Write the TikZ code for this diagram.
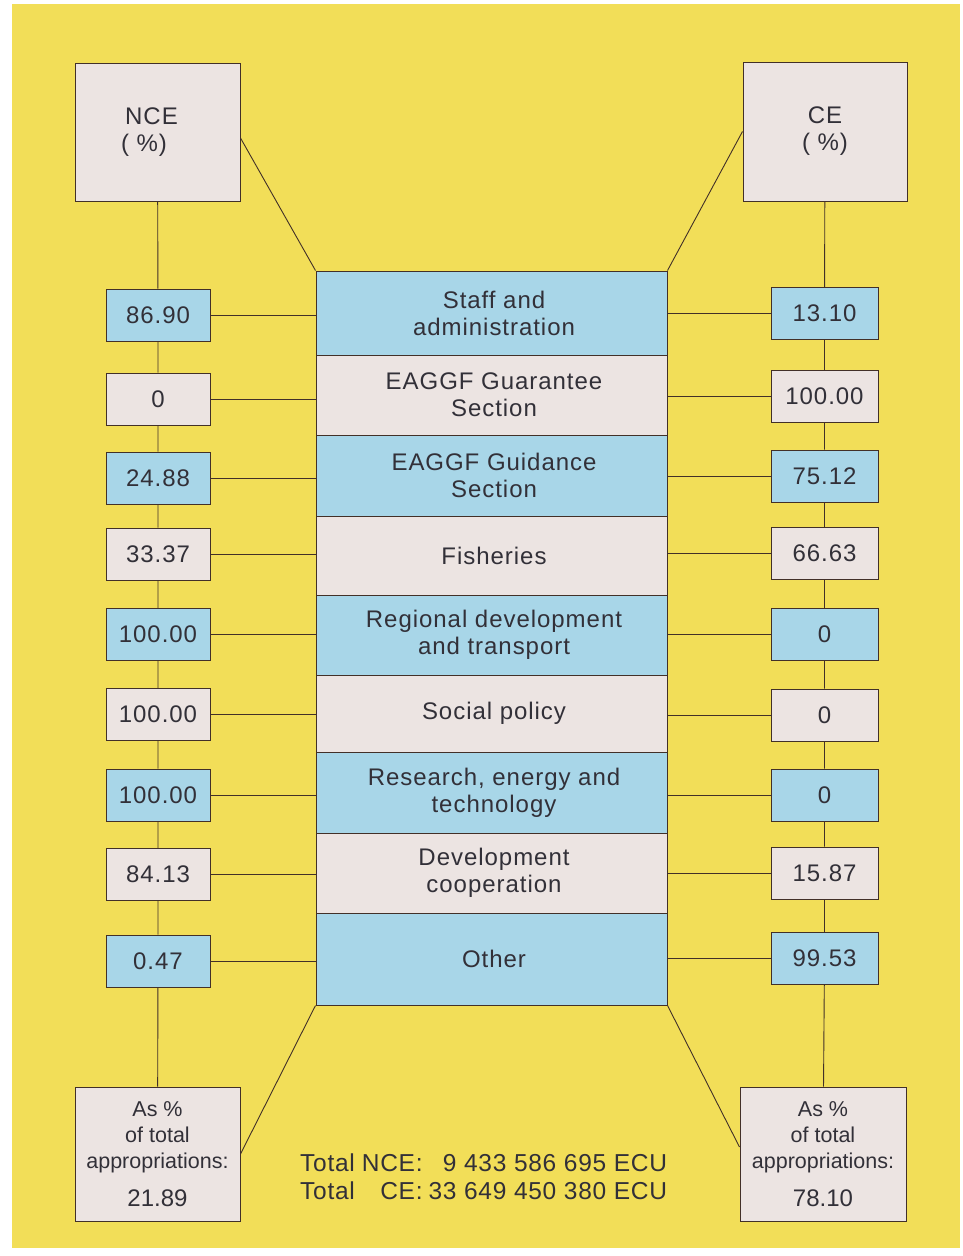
\documentclass[tikz,border=0pt]{standalone}
\usepackage{fontspec}
\setmainfont{Liberation Sans}
\newfontfamily\spfont[LetterSpace=4]{Liberation Sans}
\newfontfamily\totfont[LetterSpace=3]{Liberation Sans}
\usetikzlibrary{calc}
\definecolor{bgyellow}{RGB}{242,222,88}
\definecolor{boxblue}{RGB}{168,214,232}
\definecolor{boxpink}{RGB}{236,228,226}
\definecolor{ink}{RGB}{50,48,56}
\definecolor{linec}{RGB}{66,48,40}
\begin{document}
\begin{tikzpicture}[x=1pt,y=-1pt,
  every node/.style={text=ink},
  box/.style={draw=linec, line width=1pt, rectangle, inner sep=0pt, align=center},
  pinkbox/.style={box, fill=boxpink},
  bluebox/.style={box, fill=boxblue},
  txt/.style={font=\spfont\fontsize{24}{27}\selectfont},
  rowbox/.style={minimum width=351pt, txt},
  lval/.style={minimum width=104pt, minimum height=52pt, txt},
  rval/.style={minimum width=107pt, minimum height=52pt, txt},
  botbox/.style={minimum height=134pt, font=\fontsize{21.5}{26}\selectfont},
  conn/.style={draw=linec, line width=0.9pt},
]
\useasboundingbox (0,0) rectangle (962,1256);
\fill[white] (0,0) rectangle (962,1256);
\fill[bgyellow] (12,4) rectangle (960,1248);

% header boxes
\node[pinkbox, txt, minimum width=165pt, minimum height=138pt] (nce) at (157.5,132) {\hspace*{-12pt}NCE\\\hspace*{-27pt}( \%)};
\node[pinkbox, txt, minimum width=164pt, minimum height=139pt] (ce) at (825,131.5) {CE\\( \%)};

% central column
\node[bluebox, rowbox, minimum height=84pt] (row1) at (491.5,313) {\hspace*{5pt}Staff and\\\hspace*{5pt}administration};
\node[pinkbox, rowbox, minimum height=80pt] (row2) at (491.5,395) {\hspace*{5pt}EAGGF Guarantee\\\hspace*{5pt}Section};
\node[bluebox, rowbox, minimum height=81pt] (row3) at (491.5,475.5) {\hspace*{5pt}EAGGF Guidance\\\hspace*{5pt}Section};
\node[pinkbox, rowbox, minimum height=79pt] (row4) at (491.5,555.5) {\hspace*{5pt}Fisheries};
\node[bluebox, rowbox, minimum height=80pt] (row5) at (491.5,635) {\hspace*{5pt}Regional development\\\hspace*{5pt}and transport};
\node[pinkbox, rowbox, minimum height=77pt] (row6) at (491.5,713.5) {\hspace*{5pt}Social policy};
\node[bluebox, rowbox, minimum height=81pt] (row7) at (491.5,792.5) {\hspace*{5pt}Research, energy and\\\hspace*{5pt}technology};
\node[pinkbox, rowbox, minimum height=80pt] (row8) at (491.5,873) {\hspace*{5pt}Development\\\hspace*{5pt}cooperation};
\node[bluebox, rowbox, minimum height=92pt] (row9) at (491.5,959) {\hspace*{5pt}Other};

% left values
\node[bluebox, lval] (l1) at (158,315) {86.90};
\node[pinkbox, lval] (l2) at (158,399) {0};
\node[bluebox, lval] (l3) at (158,478) {24.88};
\node[pinkbox, lval] (l4) at (158,554) {33.37};
\node[bluebox, lval] (l5) at (158,634.5) {100.00};
\node[pinkbox, lval] (l6) at (158,714.5) {100.00};
\node[bluebox, lval] (l7) at (158,795) {100.00};
\node[pinkbox, lval] (l8) at (158,874.5) {84.13};
\node[bluebox, lval] (l9) at (158,961) {0.47};

% right values
\node[bluebox, rval] (r1) at (824.5,313.5) {13.10};
\node[pinkbox, rval] (r2) at (824.5,396.5) {100.00};
\node[bluebox, rval] (r3) at (824.5,476) {75.12};
\node[pinkbox, rval] (r4) at (824.5,553.5) {66.63};
\node[bluebox, rval] (r5) at (824.5,634.5) {0};
\node[pinkbox, rval] (r6) at (824.5,715) {0};
\node[bluebox, rval] (r7) at (824.5,795) {0};
\node[pinkbox, rval] (r8) at (824.5,873) {15.87};
\node[bluebox, rval] (r9) at (824.5,958.5) {99.53};

% bottom boxes
\node[pinkbox, botbox, minimum width=165pt] (bl) at (157.5,1154)
  {As \%\\of total\\appropriations:\\[12pt]{\fontsize{24}{26}\selectfont 21.89}};
\node[pinkbox, botbox, minimum width=166pt] (br) at (823,1154)
  {As \%\\of total\\appropriations:\\[12pt]{\fontsize{24}{26}\selectfont 78.10}};

% totals
\node[anchor=west, inner sep=0pt, font=\totfont\fontsize{24.5}{28}\selectfont] (tot) at (300,1180)
  {\begin{tabular}{@{}l@{\hspace{7pt}}r@{\hspace{6pt}}r@{}}
   Total & NCE: & 9 433 586 695 ECU\\
   Total & CE: & 33 649 450 380 ECU
   \end{tabular}};

% vertical chains
\draw[conn] (nce) -- (l1) -- (l2) -- (l3) -- (l4) -- (l5) -- (l6) -- (l7) -- (l8) -- (l9) -- (bl);
\draw[conn] (ce) -- (r1) -- (r2) -- (r3) -- (r4) -- (r5) -- (r6) -- (r7) -- (r8) -- (r9) -- (br);

% horizontal connectors
\foreach \i in {1,...,9}{
  \draw[conn] (l\i.east) -- (l\i.east -| row\i.west);
  \draw[conn] (r\i.west) -- (r\i.west -| row\i.east);
}

% diagonals
\draw[conn] ([yshift=-6pt]nce.east) -- (row1.north west);
\draw[conn] (ce.west) -- (row1.north east);
\draw[conn] (row9.south west) -- (bl.east);
\draw[conn] (row9.south east) -- ([yshift=7pt]br.west);
\end{tikzpicture}
\end{document}
